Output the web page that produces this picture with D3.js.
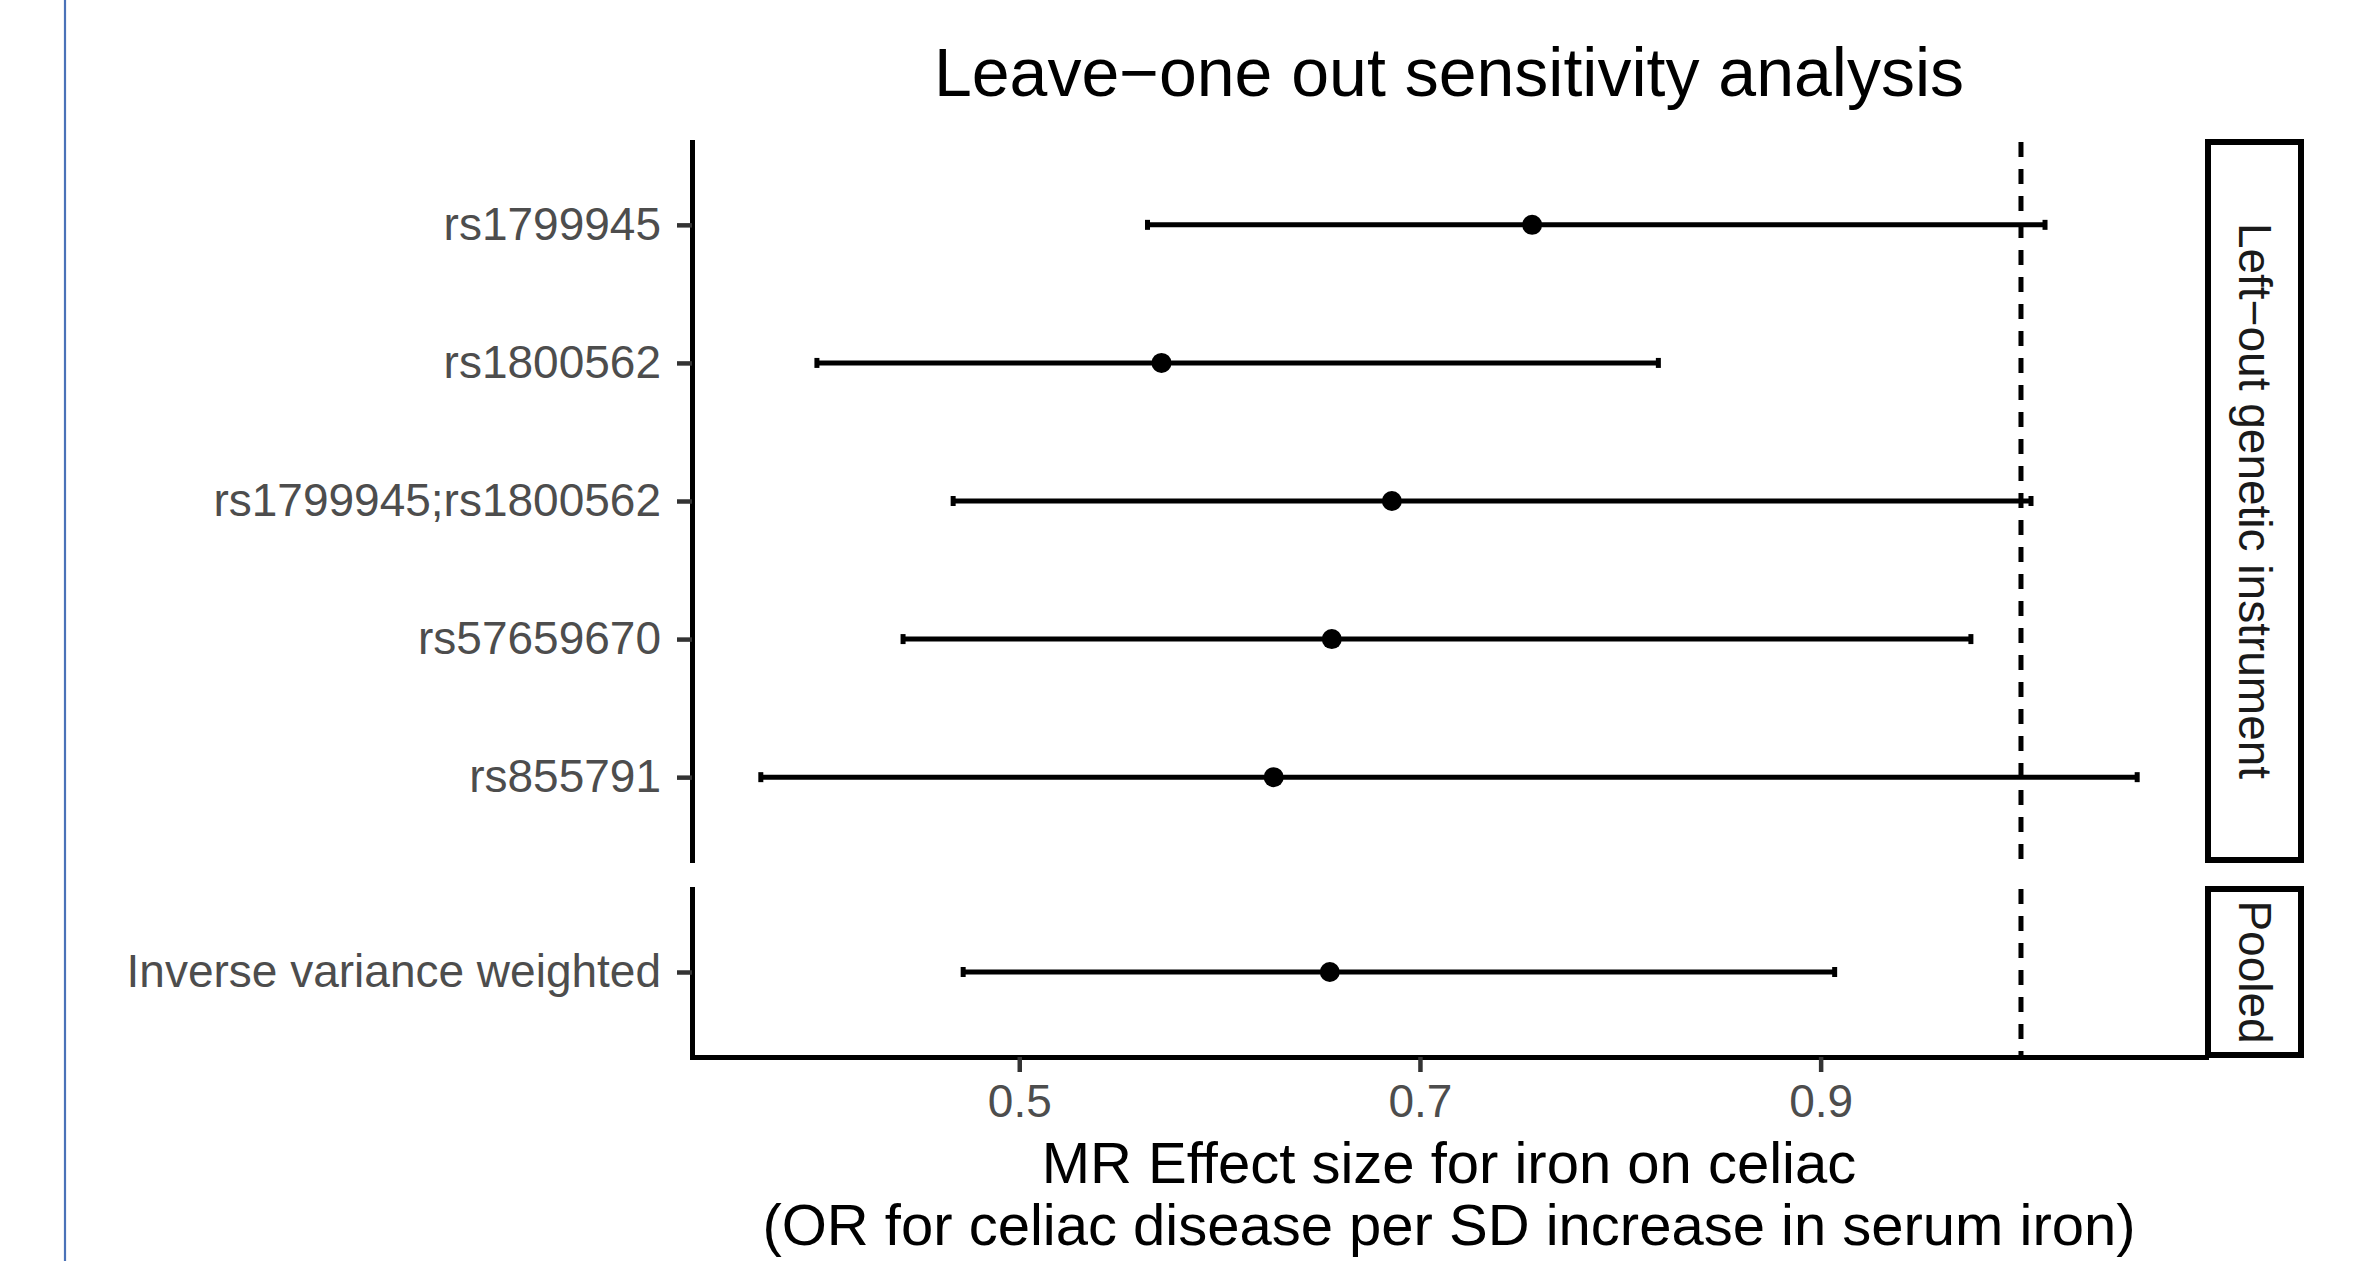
<!DOCTYPE html>
<html>
<head>
<meta charset="utf-8">
<script src="https://cdn.jsdelivr.net/npm/d3@7"></script>
<style>
  body { margin: 0; background: #fff; }
  svg { display: block; font-family: "Liberation Sans", Arial, sans-serif; }
</style>
</head>
<body>
<svg id="forest" width="2353" height="1261"></svg>
<script>
// values
const snps = ["rs1799945", "rs1800562", "rs1799945;rs1800562", "rs57659670", "rs855791", "Inverse variance weighted"];
const groups = ["Left−out genetic instrument", "Left−out genetic instrument", "Left−out genetic instrument",
                "Left−out genetic instrument", "Left−out genetic instrument", "Pooled"];
const estimate = [0.756, 0.571, 0.686, 0.656, 0.627, 0.655];
const lower = [0.564, 0.399, 0.467, 0.442, 0.371, 0.472];
const upper = [1.012, 0.819, 1.005, 0.975, 1.058, 0.907];
const xTicks = [0.5, 0.7, 0.9];
const nullLine = 1;
const panelNames = ["Left−out genetic instrument", "Pooled"];

const rows = snps.map((s, i) => ({ snp: s, group: groups[i], b: estimate[i], lo: lower[i], hi: upper[i] }));

const svg = d3.select("#forest");
const left = 692, right = 2206, bottom = 1057;
const stripW = 93;

// ggplot-like expansion: 5% of the data range
const lo = d3.min(rows, d => d.lo), hi = d3.max(rows, d => d.hi);
const pad = (hi - lo) * 0.05;
const x = d3.scaleLinear().domain([lo - pad, hi + pad]).range([left, right]);

// panel extents
const panelBox = {
  "Left−out genetic instrument": [142, 860],
  "Pooled": [889, 1055]
};

// blue page border line
svg.append("line")
  .attr("x1", 65).attr("x2", 65).attr("y1", 0).attr("y2", 1261)
  .attr("stroke", "#4a72b8").attr("stroke-width", 2.2);

svg.append("text")
  .attr("x", (left + right) / 2).attr("y", 96)
  .attr("text-anchor", "middle")
  .attr("font-size", 68)
  .attr("fill", "#000")
  .text("Leave−one out sensitivity analysis");

panelNames.forEach(name => {
  const [top, bot] = panelBox[name];
  const sub = rows.filter(d => d.group === name);
  const y = d3.scalePoint().domain(sub.map(d => d.snp)).range([top, bot]).padding(0.6);

  const g = svg.append("g");

  // dashed reference line
  g.append("line")
    .attr("x1", x(nullLine)).attr("x2", x(nullLine))
    .attr("y1", top).attr("y2", bot)
    .attr("stroke", "#000").attr("stroke-width", 5)
    .attr("stroke-dasharray", "15,12");

  const bars = g.selectAll(".bar").data(sub).join("g").attr("class", "bar");
  bars.append("line")
    .attr("x1", d => x(d.lo)).attr("x2", d => x(d.hi))
    .attr("y1", d => y(d.snp)).attr("y2", d => y(d.snp))
    .attr("stroke", "#000").attr("stroke-width", 5);
  bars.append("line")
    .attr("x1", d => x(d.lo)).attr("x2", d => x(d.lo))
    .attr("y1", d => y(d.snp) - 5).attr("y2", d => y(d.snp) + 5)
    .attr("stroke", "#000").attr("stroke-width", 5);
  bars.append("line")
    .attr("x1", d => x(d.hi)).attr("x2", d => x(d.hi))
    .attr("y1", d => y(d.snp) - 5).attr("y2", d => y(d.snp) + 5)
    .attr("stroke", "#000").attr("stroke-width", 5);
  bars.append("circle")
    .attr("cx", d => x(d.b)).attr("cy", d => y(d.snp))
    .attr("r", 10).attr("fill", "#000");

  // y axis
  const ay = g.append("g")
    .attr("transform", `translate(${left},0)`)
    .call(d3.axisLeft(y).tickSize(15).tickSizeOuter(0).tickPadding(16));
  ay.select(".domain").attr("stroke", "#000").attr("stroke-width", 5).attr("stroke-linecap", "square");
  ay.selectAll(".tick line").attr("stroke", "#333").attr("stroke-width", 4.5);
  ay.selectAll(".tick text").attr("font-size", 46).attr("fill", "#4d4d4d")
    .attr("font-family", "'Liberation Sans', Arial, sans-serif");

  // strip
  const sx = right + 2;
  g.append("rect")
    .attr("x", sx).attr("y", top)
    .attr("width", stripW).attr("height", bot - top)
    .attr("fill", "#fff").attr("stroke", "#000").attr("stroke-width", 6);
  g.append("text")
    .attr("transform", `translate(${sx + stripW / 2},${(top + bot) / 2}) rotate(90)`)
    .attr("text-anchor", "middle")
    .attr("dominant-baseline", "central")
    .attr("font-size", 46)
    .attr("fill", "#1a1a1a")
    .text(name);
});

// x axis
const ax = svg.append("g")
  .attr("transform", `translate(0,${bottom})`)
  .call(d3.axisBottom(x).tickValues(xTicks).tickFormat(d3.format(".1f")).tickSize(15).tickSizeOuter(0).tickPadding(12));
ax.select(".domain").attr("stroke", "#000").attr("stroke-width", 5).attr("stroke-linecap", "square");
ax.selectAll(".tick line").attr("stroke", "#333").attr("stroke-width", 4.5);
ax.selectAll(".tick text").attr("font-size", 46).attr("fill", "#4d4d4d")
  .attr("font-family", "'Liberation Sans', Arial, sans-serif");

const xt = svg.append("text")
  .attr("text-anchor", "middle")
  .attr("font-size", 58)
  .attr("fill", "#000");
xt.append("tspan").attr("x", (left + right) / 2).attr("y", 1183).text("MR Effect size for iron on celiac");
xt.append("tspan").attr("x", (left + right) / 2).attr("y", 1245).text("(OR for celiac disease per SD increase in serum iron)");
</script>
</body>
</html>
